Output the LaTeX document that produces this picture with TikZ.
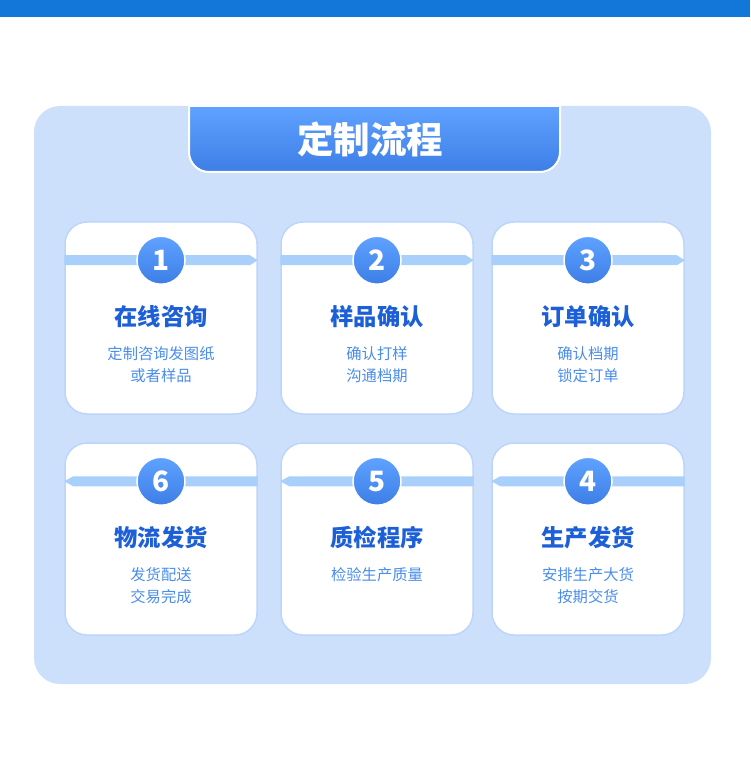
\documentclass[tikz,border=0pt]{standalone}
\usepackage{fontspec}
\setmainfont{Noto Sans CJK SC}
\definecolor{TopBar}   {HTML}{1377D9}
\definecolor{PanelBg}  {HTML}{CCE0FC}
\definecolor{TabTop}   {HTML}{5FA2FF}
\definecolor{TabBot}   {HTML}{3D7EE6}
\definecolor{BandBlue} {HTML}{A8D0FA}
\definecolor{CardEdge} {HTML}{BDD5FA}
\definecolor{StepTitle}{HTML}{1C5FD6}
\definecolor{StepText} {HTML}{4A8DEB}
\usetikzlibrary{positioning,calc}

\begin{document}
\begin{tikzpicture}[x=1pt,y=-1pt,
    card/.style={fill=white,draw=CardEdge,line width=1.5pt,
                 rounded corners=22pt,minimum width=192pt,minimum height=192pt},
    badge/.style={circle,minimum size=48pt,inner sep=0pt,draw=white,line width=1.5pt,
                  top color=TabTop,bottom color=TabBot,text=white,
                  font=\fontsize{28}{28}\selectfont\bfseries},
    steptitle/.style={anchor=base,text=StepTitle,font=\fontsize{23.3}{23.3}\selectfont\bfseries},
    steptext/.style={anchor=north,text=StepText,align=center,
                     font=\fontsize{15.3}{22}\selectfont}]
  \useasboundingbox (0,0) rectangle (750,775);
  %% Top bar and panel
  \fill[TopBar] (0,0) rectangle (750,17);
  \fill[PanelBg,rounded corners=26pt] (34,106) rectangle (711,684);
  %% Title tab -- bottom corners rounded only
  \shade[top color=TabTop,bottom color=TabBot,draw=white,line width=2pt]
       (189,106) [rounded corners=20pt]-- (189,172) -- (560,172)
       [sharp corners]-- (560,106) -- cycle;
  \node[text=white,font=\fontsize{36.5}{36.5}\selectfont\bfseries] (title) at (370,139) {定制流程};

  %% Cards
  \node[card] (c1) at (161,318) {};
  \node[card] (c2) at (377,318) {};
  \node[card] (c3) at (588,318) {};
  \node[card] (c6) at (161,539) {};
  \node[card] (c5) at (377,539) {};
  \node[card] (c4) at (588,539) {};

  %% Bands -- row 1 points right, row 2 points left
  \fill[BandBlue] ($(c1.north west)+(0,34)$) -- ($(c1.north east)+(-8,34)$) -- ($(c1.north east)+(0,39)$)
       -- ($(c1.north east)+(-8,44)$) -- ($(c1.north west)+(0,44)$) -- cycle;
  \fill[BandBlue] ($(c2.north west)+(0,34)$) -- ($(c2.north east)+(-8,34)$) -- ($(c2.north east)+(0,39)$)
       -- ($(c2.north east)+(-8,44)$) -- ($(c2.north west)+(0,44)$) -- cycle;
  \fill[BandBlue] ($(c3.north west)+(0,34)$) -- ($(c3.north east)+(-8,34)$) -- ($(c3.north east)+(0,39)$)
       -- ($(c3.north east)+(-8,44)$) -- ($(c3.north west)+(0,44)$) -- cycle;
  \fill[BandBlue] ($(c6.north east)+(0,34)$) -- ($(c6.north west)+(9,34)$) -- ($(c6.north west)+(0,39)$)
       -- ($(c6.north west)+(9,44)$) -- ($(c6.north east)+(0,44)$) -- cycle;
  \fill[BandBlue] ($(c5.north east)+(0,34)$) -- ($(c5.north west)+(9,34)$) -- ($(c5.north west)+(0,39)$)
       -- ($(c5.north west)+(9,44)$) -- ($(c5.north east)+(0,44)$) -- cycle;
  \fill[BandBlue] ($(c4.north east)+(0,34)$) -- ($(c4.north west)+(9,34)$) -- ($(c4.north west)+(0,39)$)
       -- ($(c4.north west)+(9,44)$) -- ($(c4.north east)+(0,44)$) -- cycle;

  %% Number badges
  \node[badge] (n1) at ($(c1.north)+(0,39)$) {1};
  \node[badge] (n2) at ($(c2.north)+(0,39)$) {2};
  \node[badge] (n3) at ($(c3.north)+(0,39)$) {3};
  \node[badge] (n6) at ($(c6.north)+(0,39)$) {6};
  \node[badge] (n5) at ($(c5.north)+(0,39)$) {5};
  \node[badge] (n4) at ($(c4.north)+(0,39)$) {4};

  %% Step titles and notes
  \node[steptitle] (t1) at ($(n1)+(0,65)$) {在线咨询};
  \node[steptext]  (s1) at ($(n1)+(0,83)$) {定制咨询发图纸\\或者样品};
  \node[steptitle] (t2) at ($(n2)+(0,65)$) {样品确认};
  \node[steptext]  (s2) at ($(n2)+(0,83)$) {确认打样\\沟通档期};
  \node[steptitle] (t3) at ($(n3)+(0,65)$) {订单确认};
  \node[steptext]  (s3) at ($(n3)+(0,83)$) {确认档期\\锁定订单};
  \node[steptitle] (t6) at ($(n6)+(0,65)$) {物流发货};
  \node[steptext]  (s6) at ($(n6)+(0,83)$) {发货配送\\交易完成};
  \node[steptitle] (t5) at ($(n5)+(0,65)$) {质检程序};
  \node[steptext]  (s5) at ($(n5)+(0,83)$) {检验生产质量};
  \node[steptitle] (t4) at ($(n4)+(0,65)$) {生产发货};
  \node[steptext]  (s4) at ($(n4)+(0,83)$) {安排生产大货\\按期交货};
\end{tikzpicture}
\end{document}
